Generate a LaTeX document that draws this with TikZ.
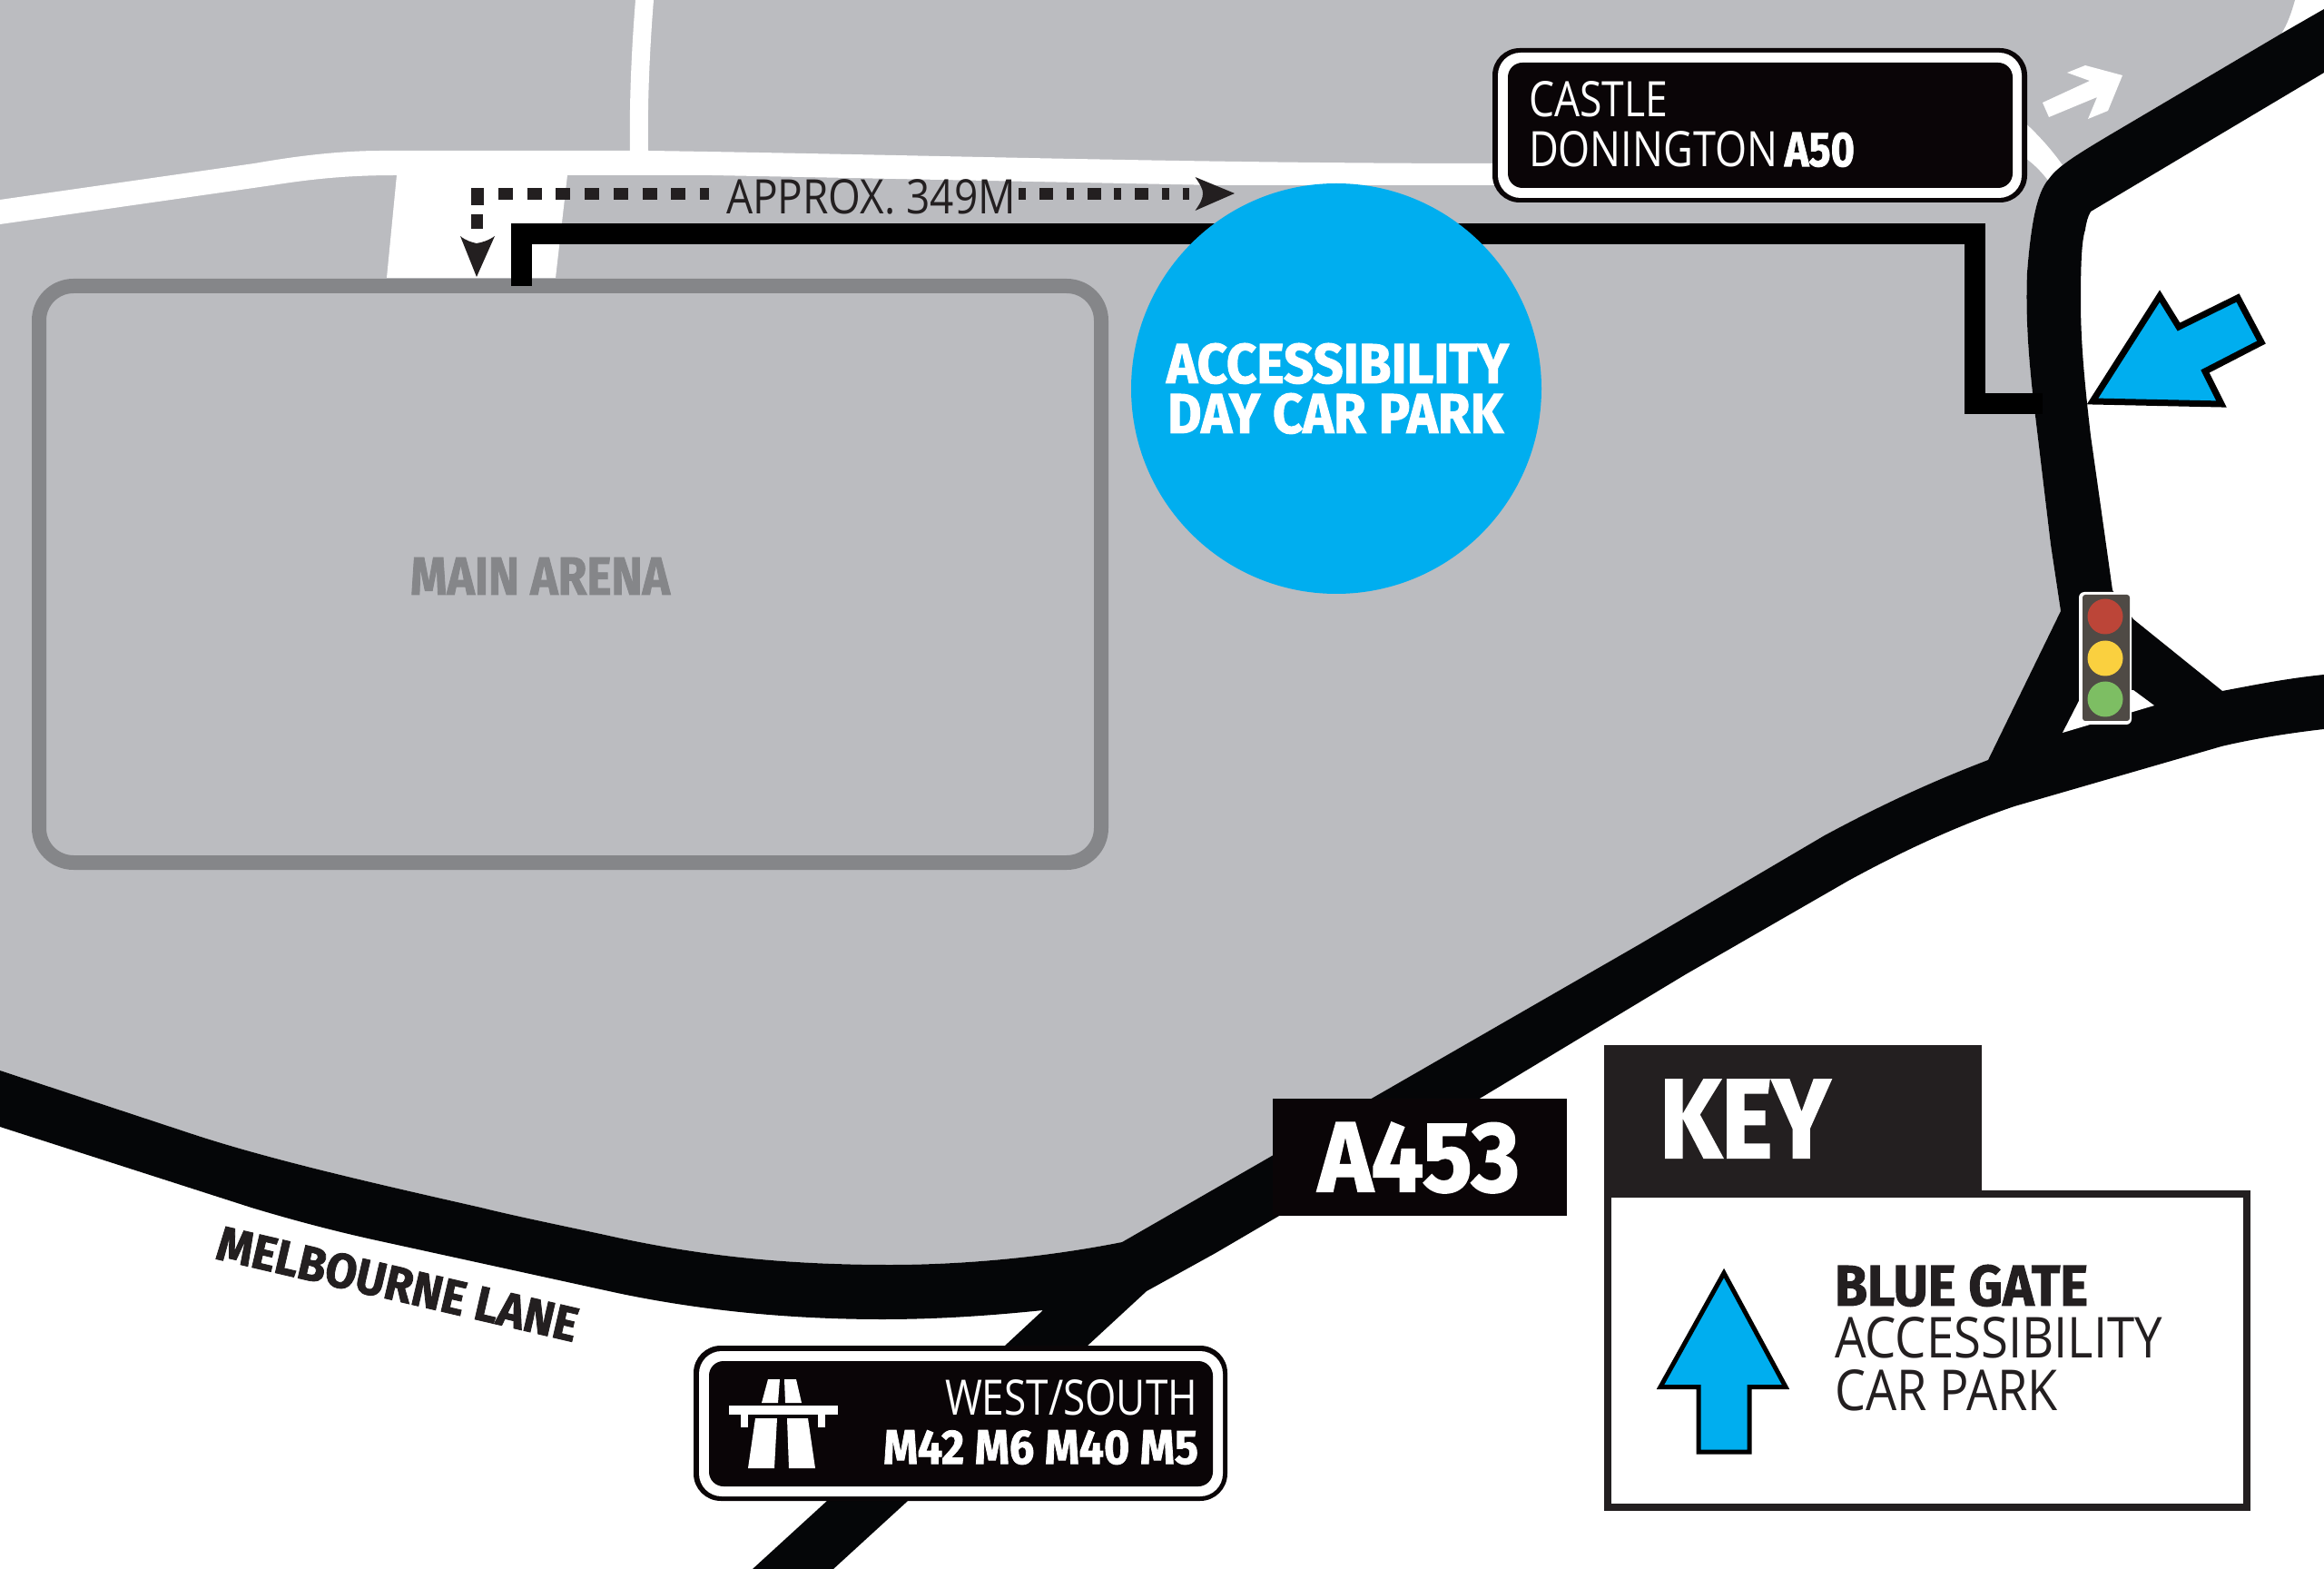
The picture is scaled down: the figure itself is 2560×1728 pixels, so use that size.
\documentclass[tikz,border=0pt]{standalone}
\usepackage{graphicx}
\usepackage{fontspec}
\newfontfamily\rg{Open Sans}
\newfontfamily\hv[BoldFeatures={FakeBold=1.6}]{Fira Sans}
\newdimen\pxu \pxu=0.01cm
\newcommand\fit[3]{\resizebox{#1\pxu}{#2\pxu}{#3}}
\definecolor{greyland}{HTML}{BBBCC0}
\definecolor{arena}{HTML}{858689}
\definecolor{roadblk}{HTML}{050608}
\definecolor{signblk}{HTML}{0A0507}
\definecolor{inkdark}{HTML}{231F20}
\definecolor{cyanblue}{HTML}{00AEEF}
\definecolor{lighthouse}{HTML}{4F4A45}
\definecolor{lightred}{HTML}{BC4538}
\definecolor{lightyellow}{HTML}{FAD03F}
\definecolor{lightgreen}{HTML}{7DBE63}
\tikzset{
  lbl/.style={inner sep=0pt,outer sep=0pt,anchor=south west},
  whiteroad/.style={fill=white,draw=none},
  dots/.style={draw=inkdark,line width=13\pxu},
  bluearrow/.style={fill=cyanblue,draw=black,miter limit=10},
  lamp/.style={circle,inner sep=0pt,minimum size=39\pxu},
}
\begin{document}
\begin{tikzpicture}[x=0.01cm,y=-0.01cm]
\useasboundingbox (0,0) rectangle (2560,1728);
\fill[white] (0,0) rectangle (2560,1728);
% land
\fill[greyland] (0,0) -- (2528,0) .. controls (2524,14) and (2520,26) .. (2513,37)
  -- (2320,151) .. controls (2285,172) and (2266,184) .. (2257,197)
  .. controls (2243,212) and (2237,250) .. (2233,300) .. controls (2231,350) and (2235,395) .. (2239,433)
  -- (2259,600) -- (2270,673)
  -- (2190,837) .. controls (2130,860) and (2075,885) .. (2010,920) -- (1806,1040)
  -- (1236,1368) .. controls (1150,1385) and (1060,1393) .. (980,1393)
  .. controls (850,1393) and (760,1380) .. (680,1363)
  .. controls (630,1352) and (570,1340) .. (530,1330)
  .. controls (420,1305) and (300,1278) .. (212,1249)
  -- (0,1179) -- cycle;
% white roads
\fill[whiteroad] (0,220) -- (280,180) .. controls (320,173) and (370,166) .. (420,166)
  -- (694,166) .. controls (693,110) and (696,50) .. (700,0) -- (720,0) .. controls (716,50) and (713,110) .. (714,166)
  .. controls (1000,170) and (1300,180) .. (1650,180)
  -- (1650,204) -- (1340,204) -- (784,193) -- (625,193) -- (612,306) -- (426,306) -- (437,193)
  .. controls (390,193) and (350,196) .. (300,204) -- (0,247) -- cycle;
\fill[whiteroad] (2225,130) .. controls (2245,148) and (2260,165) .. (2272,182) -- (2257,200) .. controls (2248,188) and (2238,178) .. (2225,170) -- cycle;
\fill[white] (2250,113) -- (2257,129) -- (2310,107) -- (2300,131) -- (2322,122) -- (2338,83) -- (2297,72) -- (2277,80) -- (2302,89) -- cycle;
% roads
\fill[roadblk] (2560,10) -- (2513,37)
  -- (2320,151) .. controls (2285,172) and (2266,184) .. (2257,197)
  .. controls (2243,212) and (2237,250) .. (2233,300) .. controls (2231,350) and (2235,395) .. (2239,433)
  -- (2259,600) -- (2270,673)
  -- (2190,837) .. controls (2130,860) and (2075,885) .. (2010,920) -- (1806,1040)
  -- (1236,1368) .. controls (1150,1385) and (1060,1393) .. (980,1393)
  .. controls (850,1393) and (760,1380) .. (680,1363)
  .. controls (630,1352) and (570,1340) .. (530,1330)
  .. controls (420,1305) and (300,1278) .. (212,1249)
  -- (0,1179)
  -- (0,1241) -- (277,1330) .. controls (320,1343) and (365,1355) .. (410,1365)
  -- (680,1424) .. controls (780,1445) and (880,1453) .. (972,1453)
  .. controls (1040,1453) and (1100,1448) .. (1149,1443)
  -- (1107,1482) -- (911,1653) -- (829,1728) -- (918,1728) -- (1000,1653) -- (1198,1482) -- (1263,1422) -- (1339,1380) -- (1633,1208) -- (1857,1073) -- (2036,970)
  .. controls (2100,935) and (2160,908) .. (2219,888)
  -- (2447,822) .. controls (2485,813) and (2525,807) .. (2560,803)
  -- (2560,743) .. controls (2520,747) and (2485,754) .. (2448,761) -- (2350,682) -- (2327,650)
  -- (2320,600) -- (2303,480) .. controls (2296,420) and (2292,375) .. (2292,333)
  .. controls (2292,290) and (2293,265) .. (2297,253) .. controls (2298,245) and (2300,238) .. (2303,233)
  -- (2560,80) -- cycle;
\fill[white] (2272,807) -- (2292,768) -- (2350,760) -- (2373,777) -- cycle;
% main arena
\draw[arena,line width=16\pxu,rounded corners=38\pxu] (43,315) rectangle (1213,950);
\node[lbl,text=arena] (arenaText) at (452,655) {\fit{286}{41}{\hv\bfseries MAIN ARENA}};
% route
\coordinate (routeA) at (574,315);
\coordinate (routeB) at (574,258);
\coordinate (routeC) at (2175,258);
\coordinate (routeD) at (2175,445);
\coordinate (routeE) at (2250,445);
\draw[black,line width=23\pxu,miter limit=10] (routeA) -- (routeB) -- (routeC) -- (routeD) -- (routeE);
% circle
\node[circle,fill=cyanblue,inner sep=0pt,minimum size=452\pxu] (dayPark) at (1472,428) {};
\node[lbl,text=white] (dayA) at (1285,423) {\fit{377}{44}{\hv\bfseries ACCESSIBILITY}};
\node[lbl,text=white] (dayB) at (1286,478) {\fit{370}{44}{\hv\bfseries DAY CAR PARK}};
% distance dots
\coordinate (dotA) at (549,213.5);
\coordinate (dotB) at (781,213.5);
\coordinate (dotC) at (1122,213.5);
\coordinate (dotD) at (1310,213.5);
\draw[dots,dash pattern=on 16\pxu off 15.7\pxu] (dotA) -- (dotB);
\draw[dots,dash pattern=on 8\pxu off 15\pxu on 15\pxu off 14.6\pxu] (dotC) -- (dotD);
\fill[inkdark] (519,207) rectangle (533,226);
\fill[inkdark] (519,236) rectangle (532,252);
\fill[inkdark] (525,305) -- (507,260) .. controls (513,265) and (520,267) .. (525,268) .. controls (531,267) and (538,265) .. (545,260) -- cycle;
\fill[inkdark] (1360,213) -- (1316.5,195) .. controls (1322,203) and (1325,208) .. (1325,213) .. controls (1325,219) and (1322,224) .. (1316.5,232) -- cycle;
\node[lbl,text=inkdark] (approx) at (800,236) {\fit{319}{38}{\rg APPROX. 349M}};
% blue arrow at gate
\draw[bluearrow,line width=7\pxu] (2305,442) -- (2379,326) -- (2400,360) -- (2465,328) -- (2491,377) -- (2429,409) -- (2447,445) -- cycle;
% traffic light
\fill[white,rounded corners=6\pxu] (2290,652) rectangle (2348,798);
\fill[lighthouse,rounded corners=3\pxu] (2294,655) rectangle (2346,794);
\node[lamp,fill=lightred] (lightR) at (2319,679) {};
\node[lamp,fill=lightyellow] (lightY) at (2319,725) {};
\node[lamp,fill=lightgreen] (lightG) at (2319,770) {};
% Castle sign
\fill[signblk,rounded corners=30\pxu] (1644,53) rectangle (2233,223);
\fill[white,rounded corners=25\pxu] (1650,58) rectangle (2227,218);
\fill[signblk,rounded corners=16\pxu] (1661,69) rectangle (2217,207);
\node[lbl,text=white] (castleA) at (1684,129) {\fit{153}{39}{\rg CASTLE}};
\node[lbl,text=white] (castleB) at (1684,184) {\fit{359}{39}{\rg DONINGTON\,{\hv\bfseries A50}}};
% A453
\fill[signblk] (1402,1210) rectangle (1726,1339);
\node[lbl,text=white] (aroad) at (1452,1314) {\fit{222}{76}{\hv\bfseries A453}};
% Melbourne Lane
\node[lbl,text=inkdark,rotate=-13.1] (melb) at (236,1387) {\fit{406}{38}{\hv\bfseries MELBOURNE LANE}};
% motorway sign
\fill[signblk,rounded corners=30\pxu] (764,1482) rectangle (1352,1653);
\fill[white,rounded corners=25\pxu] (770,1488) rectangle (1347,1648);
\fill[signblk,rounded corners=16\pxu] (781,1499) rectangle (1336,1637);
\fill[white] (803,1548) rectangle (923,1558);
\fill[white] (816,1558) rectangle (824,1572);
\fill[white] (901,1558) rectangle (909,1572);
\fill[white] (839,1545) -- (846,1519) -- (859,1519) -- (857,1545) -- cycle;
\fill[white] (865,1545) -- (864,1519) -- (877,1519) -- (883,1545) -- cycle;
\fill[white] (824,1617) -- (832,1562) -- (856,1562) -- (853,1617) -- cycle;
\fill[white] (869,1617) -- (867,1562) -- (890,1562) -- (898,1617) -- cycle;
\node[lbl,text=white,anchor=south east] (westA) at (1319,1559) {\fit{278}{39}{\rg WEST/SOUTH}};
\node[lbl,text=white,anchor=south east] (westB) at (1320,1613) {\fit{347}{37}{\hv\bfseries M42 M6 M40 M5}};
% key
\draw[inkdark,line width=8\pxu] (1771,1315) rectangle (2474.5,1660);
\fill[inkdark] (1766.5,1151) rectangle (2183,1318);
\node[lbl,text=white] (keyT) at (1828,1275) {\fit{188}{86}{\hv\bfseries KEY}};
\draw[bluearrow,line width=5\pxu] (1899,1402) -- (1829,1527.5) -- (1871,1527.5) -- (1871,1599) -- (1927,1599) -- (1927,1527.5) -- (1967,1527.5) -- cycle;
\node[lbl,text=inkdark] (keyA) at (2021,1439) {\fit{279}{45}{\hv\bfseries BLUE GATE}};
\node[lbl,text=inkdark] (keyB) at (2021,1496) {\fit{361}{45}{\rg ACCESSIBILITY}};
\node[lbl,text=inkdark] (keyC) at (2021,1554) {\fit{246}{45}{\rg CAR PARK}};
\end{tikzpicture}
\end{document}
